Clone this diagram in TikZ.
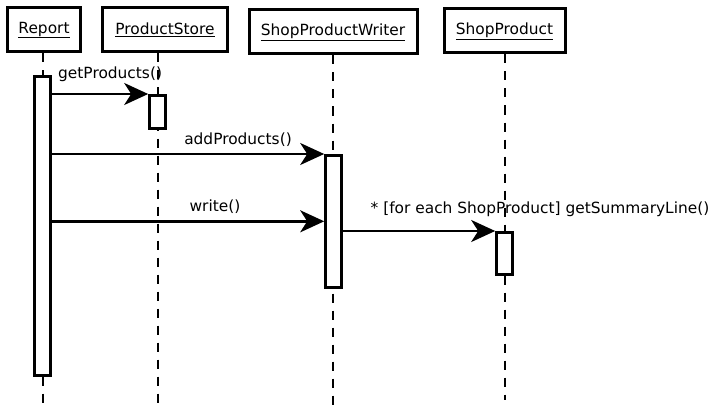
\documentclass[tikz,border=0pt]{standalone}
\usepackage{fontspec}
\setmainfont{DejaVu Sans}
\usetikzlibrary{arrows.meta}
\tikzset{%
    >={Stealth[length=24pt,width=22pt,inset=7pt]},
    objbox/.style={draw,line width=3pt,fill=white,minimum height=44pt,inner sep=0pt},
    actbar/.style={draw,line width=2.6pt,fill=white,minimum width=16pt,anchor=north,inner sep=0pt},
    lifeline/.style={line width=1.5pt,dash pattern=on 9pt off 8pt},
    msg/.style={->,line width=2.6pt},
    msglabel/.style={inner sep=0pt}
}

\begin{document}
\begin{tikzpicture}[x=1pt,y=-1pt,font=\fontsize{15.4}{18}\selectfont]
      \useasboundingbox (0,0) rectangle (711,409);

      % objects
      \node[objbox,minimum width=73pt] (report) at (44,30) {\underline{Report}};
      \node[objbox,minimum width=125pt] (store) at (165,30) {\underline{ProductStore}};
      \node[objbox,minimum width=168pt] (writer) at (333,32) {\underline{ShopProductWriter}};
      \node[objbox,minimum width=121pt] (product) at (504.5,31) {\underline{ShopProduct}};

      % lifelines
      \draw[lifeline] (report.south -| 43,0) -- (43,404);
      \draw[lifeline] (store.south -| 158,0) -- (158,409);
      \draw[lifeline] (writer.south -| 333,0) -- (333,409);
      \draw[lifeline] (product.south -| 505,0) -- (505,400);

      % activations
      \node[actbar,minimum height=299pt] (reportact) at (42.5,75) {};
      \node[actbar,minimum height=33pt] (storeact) at (157.5,94) {};
      \node[actbar,minimum height=132pt] (writeract) at (333.5,154) {};
      \node[actbar,minimum height=42pt] (productact) at (504.5,231) {};

      % messages
      \draw[msg] (reportact.east |- storeact.north) -- (storeact.north west);
      \node[msglabel,anchor=west] at (58,74) {getProducts()};
      \draw[msg] (reportact.east |- writeract.north) -- (writeract.north west);
      \node[msglabel] at (238,140) {addProducts()};
      \draw[msg] (reportact.east |- writeract.west) -- (writeract.west);
      \node[msglabel] at (215,207) {write()};
      \draw[msg] (writeract.east |- productact.north) -- (productact.north west);
      \node[msglabel] at (540,209) {* [for each ShopProduct] getSummaryLine()};
\end{tikzpicture}
\end{document}
